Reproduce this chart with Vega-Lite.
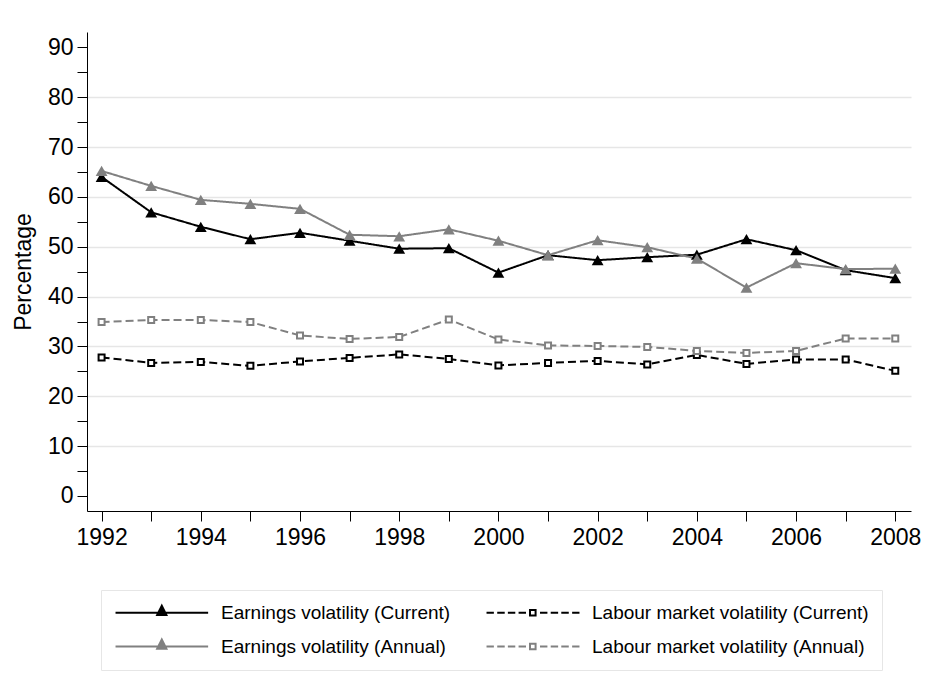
{
  "$schema": "https://vega.github.io/schema/vega-lite/v6.json",
  "width": 824,
  "height": 479,
  "autosize": "none",
  "padding": {"left": 87, "top": 32, "right": 22, "bottom": 184},
  "background": "white",
  "config": {
    "font": "Liberation Sans",
    "view": {"stroke": null}
  },
  "data": {
    "values": [
      {"year": 1992, "series": "Earnings volatility (Current)", "value": 64.0},
      {"year": 1993, "series": "Earnings volatility (Current)", "value": 56.9},
      {"year": 1994, "series": "Earnings volatility (Current)", "value": 54.0},
      {"year": 1995, "series": "Earnings volatility (Current)", "value": 51.5},
      {"year": 1996, "series": "Earnings volatility (Current)", "value": 52.8},
      {"year": 1997, "series": "Earnings volatility (Current)", "value": 51.2},
      {"year": 1998, "series": "Earnings volatility (Current)", "value": 49.6},
      {"year": 1999, "series": "Earnings volatility (Current)", "value": 49.7},
      {"year": 2000, "series": "Earnings volatility (Current)", "value": 44.8},
      {"year": 2001, "series": "Earnings volatility (Current)", "value": 48.3},
      {"year": 2002, "series": "Earnings volatility (Current)", "value": 47.3},
      {"year": 2003, "series": "Earnings volatility (Current)", "value": 47.9},
      {"year": 2004, "series": "Earnings volatility (Current)", "value": 48.4},
      {"year": 2005, "series": "Earnings volatility (Current)", "value": 51.5},
      {"year": 2006, "series": "Earnings volatility (Current)", "value": 49.3},
      {"year": 2007, "series": "Earnings volatility (Current)", "value": 45.3},
      {"year": 2008, "series": "Earnings volatility (Current)", "value": 43.7},
      {"year": 1992, "series": "Labour market volatility (Current)", "value": 27.8},
      {"year": 1993, "series": "Labour market volatility (Current)", "value": 26.7},
      {"year": 1994, "series": "Labour market volatility (Current)", "value": 26.9},
      {"year": 1995, "series": "Labour market volatility (Current)", "value": 26.1},
      {"year": 1996, "series": "Labour market volatility (Current)", "value": 27.0},
      {"year": 1997, "series": "Labour market volatility (Current)", "value": 27.7},
      {"year": 1998, "series": "Labour market volatility (Current)", "value": 28.4},
      {"year": 1999, "series": "Labour market volatility (Current)", "value": 27.5},
      {"year": 2000, "series": "Labour market volatility (Current)", "value": 26.2},
      {"year": 2001, "series": "Labour market volatility (Current)", "value": 26.7},
      {"year": 2002, "series": "Labour market volatility (Current)", "value": 27.1},
      {"year": 2003, "series": "Labour market volatility (Current)", "value": 26.4},
      {"year": 2004, "series": "Labour market volatility (Current)", "value": 28.3},
      {"year": 2005, "series": "Labour market volatility (Current)", "value": 26.5},
      {"year": 2006, "series": "Labour market volatility (Current)", "value": 27.4},
      {"year": 2007, "series": "Labour market volatility (Current)", "value": 27.4},
      {"year": 2008, "series": "Labour market volatility (Current)", "value": 25.1},
      {"year": 1992, "series": "Earnings volatility (Annual)", "value": 65.2},
      {"year": 1993, "series": "Earnings volatility (Annual)", "value": 62.2},
      {"year": 1994, "series": "Earnings volatility (Annual)", "value": 59.4},
      {"year": 1995, "series": "Earnings volatility (Annual)", "value": 58.6},
      {"year": 1996, "series": "Earnings volatility (Annual)", "value": 57.6},
      {"year": 1997, "series": "Earnings volatility (Annual)", "value": 52.4},
      {"year": 1998, "series": "Earnings volatility (Annual)", "value": 52.1},
      {"year": 1999, "series": "Earnings volatility (Annual)", "value": 53.5},
      {"year": 2000, "series": "Earnings volatility (Annual)", "value": 51.2},
      {"year": 2001, "series": "Earnings volatility (Annual)", "value": 48.3},
      {"year": 2002, "series": "Earnings volatility (Annual)", "value": 51.3},
      {"year": 2003, "series": "Earnings volatility (Annual)", "value": 49.9},
      {"year": 2004, "series": "Earnings volatility (Annual)", "value": 47.6},
      {"year": 2005, "series": "Earnings volatility (Annual)", "value": 41.8},
      {"year": 2006, "series": "Earnings volatility (Annual)", "value": 46.7},
      {"year": 2007, "series": "Earnings volatility (Annual)", "value": 45.5},
      {"year": 2008, "series": "Earnings volatility (Annual)", "value": 45.6},
      {"year": 1992, "series": "Labour market volatility (Annual)", "value": 34.9},
      {"year": 1993, "series": "Labour market volatility (Annual)", "value": 35.3},
      {"year": 1994, "series": "Labour market volatility (Annual)", "value": 35.3},
      {"year": 1995, "series": "Labour market volatility (Annual)", "value": 34.9},
      {"year": 1996, "series": "Labour market volatility (Annual)", "value": 32.2},
      {"year": 1997, "series": "Labour market volatility (Annual)", "value": 31.5},
      {"year": 1998, "series": "Labour market volatility (Annual)", "value": 31.9},
      {"year": 1999, "series": "Labour market volatility (Annual)", "value": 35.4},
      {"year": 2000, "series": "Labour market volatility (Annual)", "value": 31.4},
      {"year": 2001, "series": "Labour market volatility (Annual)", "value": 30.2},
      {"year": 2002, "series": "Labour market volatility (Annual)", "value": 30.1},
      {"year": 2003, "series": "Labour market volatility (Annual)", "value": 29.9},
      {"year": 2004, "series": "Labour market volatility (Annual)", "value": 29.1},
      {"year": 2005, "series": "Labour market volatility (Annual)", "value": 28.7},
      {"year": 2006, "series": "Labour market volatility (Annual)", "value": 29.1},
      {"year": 2007, "series": "Labour market volatility (Annual)", "value": 31.6},
      {"year": 2008, "series": "Labour market volatility (Annual)", "value": 31.6}
    ]
  },
  "encoding": {
    "x": {
      "field": "year",
      "type": "quantitative",
      "scale": {"domain": [1991.706, 2008.317], "nice": false, "zero": false},
      "axis": {
        "title": null,
        "values": [1992, 1993, 1994, 1995, 1996, 1997, 1998, 1999, 2000, 2001, 2002, 2003, 2004, 2005, 2006, 2007, 2008],
        "format": "d",
        "labelExpr": "datum.value % 2 === 0 ? datum.label : ''",
        "grid": false,
        "domainColor": "black",
        "tickColor": "black",
        "tickSize": 10,
        "labelColor": "black",
        "labelFontSize": 23,
        "labelPadding": 5,
        "labelFlush": false,
        "labelOverlap": false
      }
    },
    "y": {
      "field": "value",
      "type": "quantitative",
      "scale": {"domain": [-3.01, 93.07], "nice": false, "zero": false},
      "axis": {
        "title": "Percentage",
        "values": [0, 5, 10, 15, 20, 25, 30, 35, 40, 45, 50, 55, 60, 65, 70, 75, 80, 85, 90],
        "labelExpr": "datum.value % 10 === 0 ? datum.label : ''",
        "grid": true,
        "gridColor": "#e6e6e6",
        "gridWidth": 1.5,
        "gridOpacity": {"condition": {"test": "datum.value % 10 !== 0 || datum.value === 0 || datum.value === 90", "value": 0}, "value": 1},
        "domainColor": "black",
        "tickColor": "black",
        "tickSize": 10,
        "labelColor": "black",
        "labelFontSize": 23,
        "labelPadding": 4,
        "labelOverlap": false,
        "titleColor": "black",
        "titleFontSize": 23,
        "titleFontWeight": "normal",
        "titlePadding": 12
      }
    }
  },
  "layer": [
    {
      "mark": {"type": "line", "strokeWidth": 2},
      "encoding": {
        "color": {
          "field": "series",
          "type": "nominal",
          "scale": {
            "domain": ["Earnings volatility (Current)", "Earnings volatility (Annual)", "Labour market volatility (Current)", "Labour market volatility (Annual)"],
            "range": ["#000000", "#808080", "#000000", "#808080"]
          },
          "legend": null
        },
        "strokeDash": {
          "field": "series",
          "type": "nominal",
          "scale": {
            "domain": ["Earnings volatility (Current)", "Earnings volatility (Annual)", "Labour market volatility (Current)", "Labour market volatility (Annual)"],
            "range": [[1, 0], [1, 0], [8, 4], [8, 4]]
          },
          "legend": null
        }
      }
    },
    {
      "transform": [{"filter": "indexof(datum.series, 'Earnings') === 0"}],
      "mark": {"type": "point", "shape": "triangle-up", "filled": true, "size": 140, "opacity": 1},
      "encoding": {
        "color": {"field": "series", "type": "nominal", "legend": null}
      }
    },
    {
      "transform": [{"filter": "indexof(datum.series, 'Labour') === 0"}],
      "mark": {"type": "point", "shape": "square", "filled": false, "fill": "white", "size": 36, "strokeWidth": 2, "opacity": 1},
      "encoding": {
        "color": {"field": "series", "type": "nominal", "legend": null}
      }
    },
    {
      "transform": [{"filter": "false"}],
      "mark": {"type": "point", "strokeWidth": 2},
      "encoding": {
        "shape": {
          "field": "series",
          "type": "nominal",
          "scale": {
            "domain": ["Earnings volatility (Current)", "Labour market volatility (Current)", "Earnings volatility (Annual)", "Labour market volatility (Annual)"],
            "range": [
              "M-1.14,0H12.09M4.81,0.33L5.47,-1L6.13,0.33Z",
              "M-1.14,0H-0.09M0.39,0H1.46M1.91,0H2.97M3.44,0H4.5M6.5,0H7.56M8.03,0H9.09M9.54,0H10.61M11.09,0H12.14M5.07,-0.4H5.87V0.4H5.07Z",
              "M-1.14,0H12.09M4.81,0.33L5.47,-1L6.13,0.33Z",
              "M-1.14,0H-0.09M0.39,0H1.46M1.91,0H2.97M3.44,0H4.5M6.5,0H7.56M8.03,0H9.09M9.54,0H10.61M11.09,0H12.14M5.07,-0.4H5.87V0.4H5.07Z"
            ]
          },
          "legend": {
            "orient": "none", "legendX": 14, "legendY": 558, "direction": "horizontal", "columns": 2, "title": null,
            "symbolSize": 196, "symbolStrokeWidth": 2, "symbolOpacity": 1,
            "labelFontSize": 19, "labelColor": "black", "labelOffset": 88, "labelLimit": 400,
            "columnPadding": 31, "rowPadding": 12, "padding": 13,
            "strokeColor": "#e6e6e6", "fillColor": "white"
          }
        },
        "fill": {
          "field": "series",
          "type": "nominal",
          "scale": {
            "domain": ["Earnings volatility (Current)", "Labour market volatility (Current)", "Earnings volatility (Annual)", "Labour market volatility (Annual)"],
            "range": ["#000000", "#ffffff", "#808080", "#ffffff"]
          },
          "legend": {
            "orient": "none", "legendX": 14, "legendY": 558, "direction": "horizontal", "columns": 2, "title": null,
            "symbolSize": 196, "symbolStrokeWidth": 2, "symbolOpacity": 1,
            "labelFontSize": 19, "labelColor": "black", "labelOffset": 88, "labelLimit": 400,
            "columnPadding": 31, "rowPadding": 12, "padding": 13,
            "strokeColor": "#e6e6e6", "fillColor": "white"
          }
        },
        "stroke": {
          "field": "series",
          "type": "nominal",
          "scale": {
            "domain": ["Earnings volatility (Current)", "Labour market volatility (Current)", "Earnings volatility (Annual)", "Labour market volatility (Annual)"],
            "range": ["#000000", "#000000", "#808080", "#808080"]
          },
          "legend": {
            "orient": "none", "legendX": 14, "legendY": 558, "direction": "horizontal", "columns": 2, "title": null,
            "symbolSize": 196, "symbolStrokeWidth": 2, "symbolOpacity": 1,
            "labelFontSize": 19, "labelColor": "black", "labelOffset": 88, "labelLimit": 400,
            "columnPadding": 31, "rowPadding": 12, "padding": 13,
            "strokeColor": "#e6e6e6", "fillColor": "white"
          }
        }
      }
    }
  ]
}
